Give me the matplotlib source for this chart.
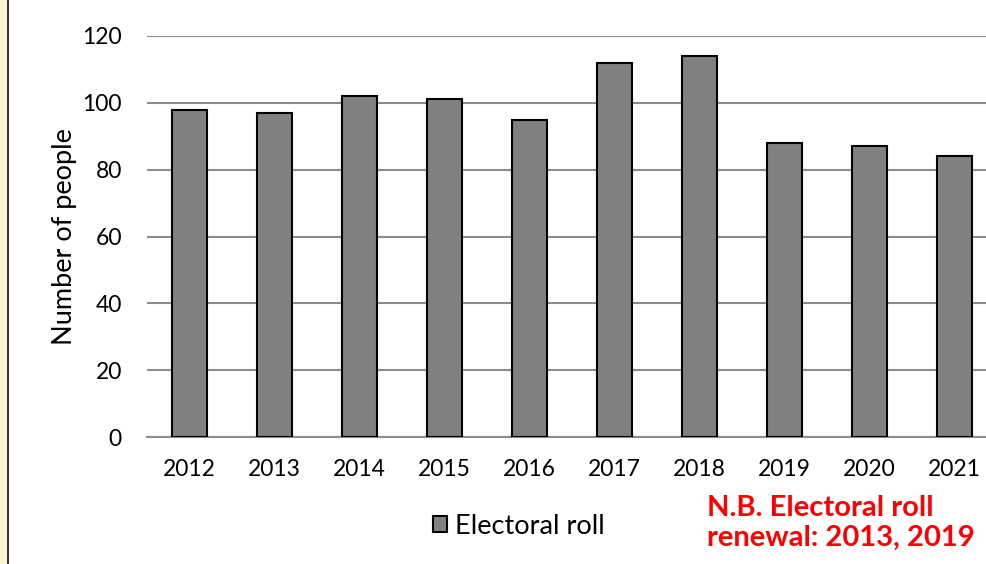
import matplotlib
matplotlib.use('Agg')
import matplotlib.pyplot as plt
from matplotlib.patches import Rectangle

years = ['2012', '2013', '2014', '2015', '2016', '2017', '2018', '2019', '2020', '2021']
electoral_roll = [98, 97, 102, 101, 95, 112, 114, 88, 87, 84]
y_ticks = [0, 20, 40, 60, 80, 100, 120]
note = 'N.B. Electoral roll\nrenewal: 2013, 2019'

plt.rcParams['font.family'] = ['Lato', 'DejaVu Sans']

fig = plt.figure(figsize=(9.87, 5.64), dpi=100)

# beige strip and dark rule at the left edge
fig.patches.append(Rectangle((0, 0), 7 / 987, 1, transform=fig.transFigure,
                             facecolor='#fdf5d2', edgecolor='none', zorder=0))
fig.patches.append(Rectangle((7 / 987, 0), 1.5 / 987, 1, transform=fig.transFigure,
                             facecolor='#333333', edgecolor='none', zorder=0))

ax = fig.add_axes([147 / 987, (564 - 437) / 564, 850 / 987, 401 / 564])
x = range(len(years))
ax.bar(x, electoral_roll, width=0.41, color='#808080', edgecolor='black',
       linewidth=1.5, label='Electoral roll', zorder=3)

ax.set_xlim(-0.5, len(years) - 0.5)
ax.set_ylim(0, 120)
ax.set_yticks(y_ticks)
ax.set_xticks(list(x))
ax.set_xticklabels(years)
ax.tick_params(axis='both', length=0, labelsize=16.5)
ax.tick_params(axis='x', pad=16)
ax.tick_params(axis='y', pad=18)
ax.yaxis.grid(True, color='#8c8c8c', linewidth=1.5, zorder=0)
ax.set_axisbelow(True)
for side in ['left', 'right', 'top']:
    ax.spines[side].set_visible(False)
ax.spines['bottom'].set_color('#8c8c8c')
ax.spines['bottom'].set_linewidth(1.5)
ax.set_ylabel('Number of people', fontsize=19.5, labelpad=4)

fig.legend(loc='center', bbox_to_anchor=(519 / 987, 1 - 526 / 564), frameon=False,
           fontsize=19.5, handlelength=0.5, handleheight=0.5, handletextpad=0.3,
           borderpad=0)

fig.text(707 / 987, 1 - 523 / 564, note, color='#ff0000', fontsize=21,
         fontweight='bold', va='center', ha='left', linespacing=1.15)

fig.savefig('out.png', dpi=100)
